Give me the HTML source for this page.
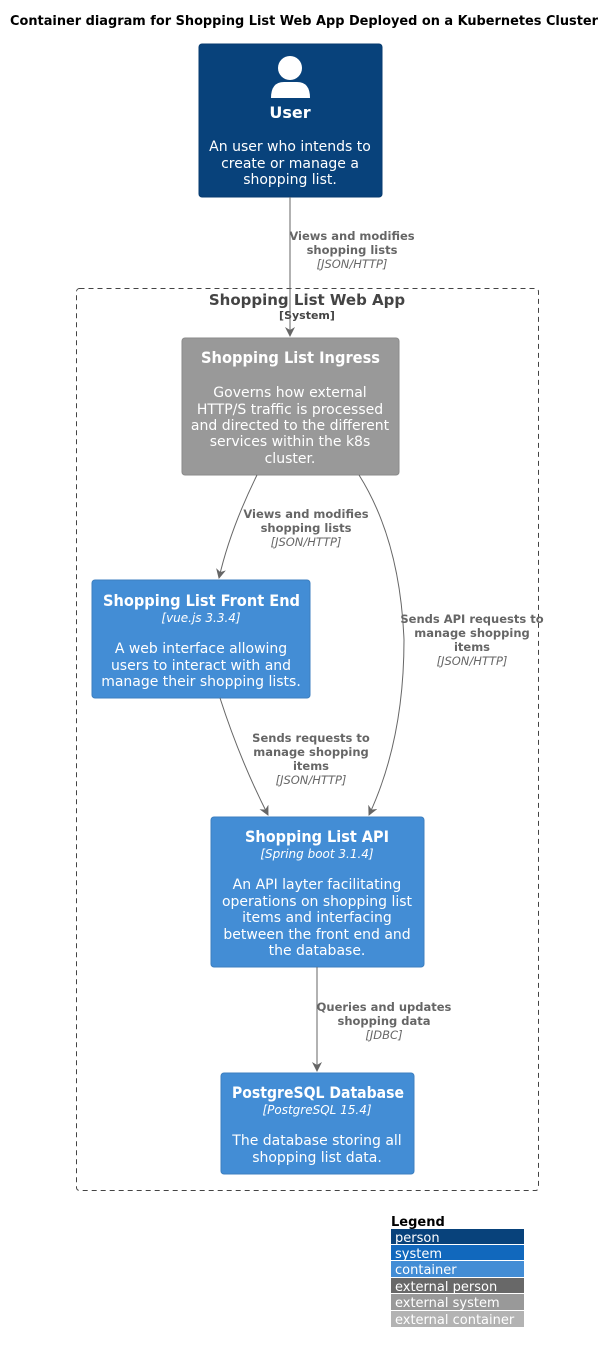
<!DOCTYPE html>
<html><head><meta charset="utf-8"><style>
html,body{margin:0;padding:0;background:#fff;}
svg{display:block;font-family:"DejaVu Sans","Liberation Sans",sans-serif;}
</style></head><body>
<svg width="615" height="1350" viewBox="0 0 615 1350" xmlns="http://www.w3.org/2000/svg">
<defs><marker id="a" markerWidth="10" markerHeight="10" refX="9" refY="5" orient="auto" markerUnits="userSpaceOnUse"><path d="M0,0 L10,5 L0,10 L3,5 Z" fill="#666"/></marker></defs>
<text x="10" y="25" textLength="588" lengthAdjust="spacingAndGlyphs" font-size="13.5" font-weight="bold" fill="#000">Container diagram for Shopping List Web App  Deployed on a Kubernetes Cluster</text>

<rect x="199" y="44" width="183" height="153" rx="3" fill="#08427b" stroke="#073b6f"/>
<circle cx="290" cy="68" r="12" fill="#fff"/>
<path d="M271,98 Q271,82 284,82 L297,82 Q310,82 310,98 Z" fill="#fff"/>
<text fill="#fff" font-size="14" text-anchor="middle"><tspan x="290" y="118" font-weight="bold" font-size="16">User</tspan><tspan x="290" y="151">An user who intends to</tspan><tspan x="290" y="168">create or manage a</tspan><tspan x="290" y="184">shopping list.</tspan></text>

<rect x="76.5" y="288.5" width="462" height="902" rx="3" fill="none" stroke="#444" stroke-dasharray="5,4"/>
<text x="307" y="305" text-anchor="middle" font-size="15" font-weight="bold" fill="#444">Shopping List Web App</text>
<text x="307" y="319" text-anchor="middle" font-size="11" font-weight="bold" fill="#444">[System]</text>

<path d="M290,197 L290,336" stroke="#666" fill="none" marker-end="url(#a)"/>
<text fill="#666" font-size="11.5" font-weight="bold" text-anchor="middle"><tspan x="352" y="240">Views and modifies</tspan><tspan x="352" y="254">shopping lists</tspan><tspan x="352" y="268" font-style="italic" font-weight="normal">[JSON/HTTP]</tspan></text>

<rect x="182" y="338" width="217" height="137" rx="3" fill="#999999" stroke="#8a8a8a"/>
<text x="201" y="363" textLength="179" lengthAdjust="spacingAndGlyphs" fill="#fff" font-weight="bold" font-size="16">Shopping List Ingress</text>
<text fill="#fff" text-anchor="middle" font-size="14"><tspan x="290" y="397">Governs how external</tspan><tspan x="290" y="414">HTTP/S traffic is processed</tspan><tspan x="290" y="430">and directed to the different</tspan><tspan x="290" y="446">services within the k8s</tspan><tspan x="290" y="463">cluster.</tspan></text>

<path d="M257,475 Q230,530 219,578" stroke="#666" fill="none" marker-end="url(#a)"/>
<text fill="#666" font-size="11.5" font-weight="bold" text-anchor="middle"><tspan x="306" y="518">Views and modifies</tspan><tspan x="306" y="532">shopping lists</tspan><tspan x="306" y="546" font-style="italic" font-weight="normal">[JSON/HTTP]</tspan></text>

<path d="M359,475 Q400,540 404,640 Q404,740 369,815" stroke="#666" fill="none" marker-end="url(#a)"/>
<text fill="#666" font-size="11.5" font-weight="bold" text-anchor="middle"><tspan x="472" y="623">Sends API requests to</tspan><tspan x="472" y="637">manage shopping</tspan><tspan x="472" y="651">items</tspan><tspan x="472" y="665" font-style="italic" font-weight="normal">[JSON/HTTP]</tspan></text>

<rect x="92" y="580" width="218" height="118" rx="3" fill="#438dd5" stroke="#3c7fc0"/>
<text x="103" y="606" textLength="197" lengthAdjust="spacingAndGlyphs" fill="#fff" font-weight="bold" font-size="16">Shopping List Front End</text>
<text fill="#fff" text-anchor="middle" font-size="14"><tspan x="201" y="622" font-style="italic" font-size="12">[vue.js 3.3.4]</tspan><tspan x="201" y="653">A web interface allowing</tspan><tspan x="201" y="670">users to interact with and</tspan><tspan x="201" y="686">manage their shopping lists.</tspan></text>

<path d="M220,698 Q240,760 268,815" stroke="#666" fill="none" marker-end="url(#a)"/>
<text fill="#666" font-size="11.5" font-weight="bold" text-anchor="middle"><tspan x="311" y="742">Sends requests to</tspan><tspan x="311" y="756">manage shopping</tspan><tspan x="311" y="770">items</tspan><tspan x="311" y="784" font-style="italic" font-weight="normal">[JSON/HTTP]</tspan></text>

<rect x="211" y="817" width="213" height="150" rx="3" fill="#438dd5" stroke="#3c7fc0"/>
<text x="245" y="842" textLength="144" lengthAdjust="spacingAndGlyphs" fill="#fff" font-weight="bold" font-size="16">Shopping List API</text>
<text fill="#fff" text-anchor="middle" font-size="14"><tspan x="317" y="858" font-style="italic" font-size="12">[Spring boot 3.1.4]</tspan><tspan x="317" y="889">An API layter facilitating</tspan><tspan x="317" y="906">operations on shopping list</tspan><tspan x="317" y="922">items and interfacing</tspan><tspan x="317" y="939">between the front end and</tspan><tspan x="317" y="955">the database.</tspan></text>

<path d="M317,967 L317,1071" stroke="#666" fill="none" marker-end="url(#a)"/>
<text fill="#666" font-size="11.5" font-weight="bold" text-anchor="middle"><tspan x="384" y="1011">Queries and updates</tspan><tspan x="384" y="1025">shopping data</tspan><tspan x="384" y="1039" font-style="italic" font-weight="normal">[JDBC]</tspan></text>

<rect x="221" y="1073" width="193" height="101" rx="3" fill="#438dd5" stroke="#3c7fc0"/>
<text x="232" y="1098" textLength="172" lengthAdjust="spacingAndGlyphs" fill="#fff" font-weight="bold" font-size="16">PostgreSQL Database</text>
<text fill="#fff" text-anchor="middle" font-size="14"><tspan x="317" y="1114" font-style="italic" font-size="12">[PostgreSQL 15.4]</tspan><tspan x="317" y="1145">The database storing all</tspan><tspan x="317" y="1162">shopping list data.</tspan></text>

<text x="391" y="1226" font-size="13" font-weight="bold" fill="#000">Legend</text>
<rect x="391" y="1229" width="133" height="15" fill="#08427b"/>
<rect x="391" y="1245" width="133" height="15" fill="#1168bd"/>
<rect x="391" y="1261" width="133" height="16" fill="#438dd5"/>
<rect x="391" y="1278" width="133" height="15" fill="#686868"/>
<rect x="391" y="1294" width="133" height="16" fill="#999999"/>
<rect x="391" y="1311" width="133" height="16" fill="#b3b3b3"/>
<g font-size="13" fill="#fff"><text x="395" y="1242">person</text><text x="395" y="1258">system</text><text x="395" y="1274">container</text><text x="395" y="1291">external person</text><text x="395" y="1307">external system</text><text x="395" y="1324">external container</text></g>
</svg>
</body></html>
